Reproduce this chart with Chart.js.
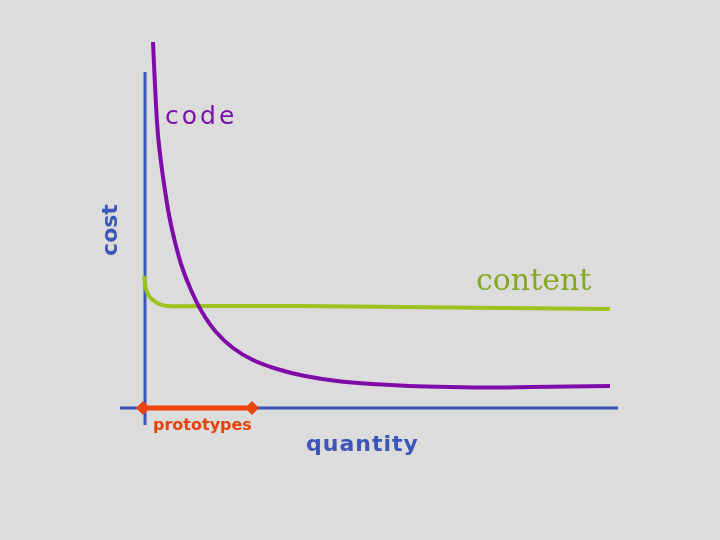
<!DOCTYPE html>
<html>
<head>
<meta charset="utf-8">
<script src="https://cdn.jsdelivr.net/npm/chart.js@4"></script>
<style>
  body { margin: 0; background: #dcdcdc; }
  canvas { display: block; }
</style>
</head>
<body>
<canvas id="myChart" width="720" height="540"></canvas>
<script>
// quantity / cost points
const codeQuantity = [1.6, 1.9, 2.2, 2.6, 3.2, 3.9, 4.8, 6, 7.4, 9.2, 11.4, 14.2, 17.6, 21.6, 26.4, 32, 38.4, 45.4, 53, 61, 69, 77, 85, 93]
const codeCost = [73.2, 66.6, 60.6, 54.6, 49.2, 44.2, 38.6, 33.2, 28.2, 23.6, 19.2, 15.2, 12, 9.6, 7.8, 6.4, 5.4, 4.8, 4.4, 4.2, 4.1, 4.2, 4.3, 4.4]

const contentQuantity = [-0.2, 0.2, 0.8, 1.6, 2.8, 4.4, 11, 31, 61, 93]
const contentCost = [26.4, 23.8, 22.4, 21.6, 20.8, 20.4, 20.4, 20.4, 20.1, 19.8]

const prototypesQuantity = [-0.4, 21.4]
const prototypesCost = [0, 0]

const costAxisQuantity = [0, 0]
const costAxisCost = [67.2, -3.4]
const quantityAxisQuantity = [-5, 94.6]
const quantityAxisCost = [0, 0]

const toPoints = (xs, ys) => xs.map((x, i) => ({ x: x, y: ys[i] }))

const labelsPlugin = {
    id: 'labels',
    afterDatasetsDraw: (chart) => {
        let ctx = chart.ctx
        ctx.save()
        ctx.textBaseline = 'middle'
        ctx.textAlign = 'left'

        ctx.fillStyle = '#7a12a6'
        ctx.font = '25px "DejaVu Sans"'
        ctx.letterSpacing = '3px'
        ctx.fillText('code', 165, 117)
        ctx.letterSpacing = '0px'

        ctx.fillStyle = '#84a824'
        ctx.font = '30px "DejaVu Serif"'
        ctx.fillText('content', 476, 282)

        ctx.fillStyle = '#e8420e'
        ctx.font = 'bold 16px "DejaVu Sans"'
        ctx.fillText('prototypes', 153, 426)

        ctx.fillStyle = '#3b55b8'
        ctx.font = 'bold 22px "DejaVu Sans"'
        ctx.letterSpacing = '1px'
        ctx.fillText('quantity', 306, 445)
        ctx.letterSpacing = '0px'

        ctx.translate(111, 230)
        ctx.rotate(-Math.PI / 2)
        ctx.textAlign = 'center'
        ctx.font = 'bold 22px "DejaVu Sans"'
        ctx.fillText('cost', 0, 0)
        ctx.restore()
    }
}

let ctx = document.getElementById('myChart')
let cfg = {
    type: 'line',
    data: {
        datasets: [
            {
                label: 'prototypes',
                data: toPoints(prototypesQuantity, prototypesCost),
                borderColor: '#ee4412',
                backgroundColor: '#ee4412',
                borderWidth: 5,
                pointStyle: 'rectRot',
                pointRadius: 7,
                pointBorderWidth: 0,
                order: 0
            },
            {
                label: 'code',
                data: toPoints(codeQuantity, codeCost),
                borderColor: '#7f0aa8',
                borderWidth: 4,
                pointRadius: 0,
                tension: 0.3,
                order: 1
            },
            {
                label: 'content',
                data: toPoints(contentQuantity, contentCost),
                borderColor: '#9cc41e',
                borderWidth: 4,
                pointRadius: 0,
                tension: 0.4,
                order: 2
            },
            {
                label: 'cost axis',
                data: toPoints(costAxisQuantity, costAxisCost),
                borderColor: '#3b55b8',
                borderWidth: 3,
                pointRadius: 0,
                order: 3
            },
            {
                label: 'quantity axis',
                data: toPoints(quantityAxisQuantity, quantityAxisCost),
                borderColor: '#3b55b8',
                borderWidth: 3,
                pointRadius: 0,
                order: 3
            }
        ]
    },
    options: {
        responsive: false,
        animation: false,
        layout: { padding: 0, autoPadding: false },
        plugins: {
            legend: { display: false },
            tooltip: { enabled: false }
        },
        scales: {
            x: { type: 'linear', min: -29, max: 115, display: false },
            y: { type: 'linear', min: -26.4, max: 81.6, display: false }
        }
    },
    plugins: [labelsPlugin]
}
new Chart(ctx, cfg)
</script>
</body>
</html>
